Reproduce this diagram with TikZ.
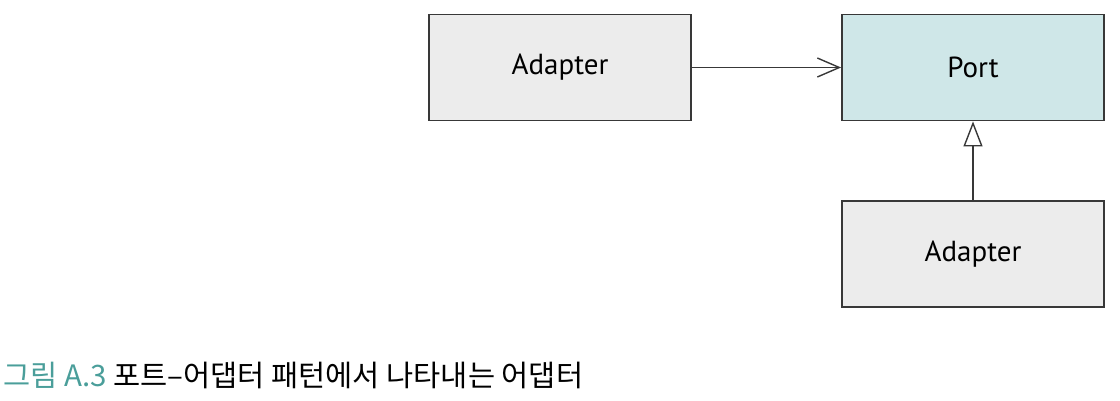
\documentclass[tikz,border=0pt]{standalone}
\usepackage{fontspec}
\setmainfont{PT Sans}
\newfontfamily\krfont{Noto Sans CJK KR}
\usepackage{tikz}
\usetikzlibrary{arrows.meta}
\usetikzlibrary{positioning}
\definecolor{boxgray}{HTML}{ECECEC}
\definecolor{portteal}{HTML}{CFE7E8}
\definecolor{edgegray}{HTML}{383838}
\definecolor{captionteal}{HTML}{4A9E9A}
\tikzset{
  >=latex,
  uses/.style={draw=edgegray, line width=1.4pt, -{Straight Barb[length=22pt,width=19pt,line width=1.4pt]}},
  realizes/.style={draw=edgegray, line width=1.4pt, -{Triangle[open,length=25pt,width=19pt,line width=1.4pt,fill=white]}}
}

\begin{document}
\begin{tikzpicture}[node distance=413pt, auto, thick]
    % Define styles
    \tikzstyle{block} = [rectangle, draw=edgegray, line width=1.8pt, fill=boxgray, minimum width=262pt, minimum height=106pt, inner sep=0pt, font=\fontsize{29}{34}\selectfont]
    \tikzstyle{portblock} = [block, fill=portteal]

    \useasboundingbox (0pt,0pt) rectangle (1120pt,-400pt);

    % Place nodes
    \node [block] (adapter) at (560pt,-67.5pt) {Adapter};
    \node [portblock, right of=adapter] (port) {Port};
    \node [block, below of=port, node distance=186.5pt] (impl) {Adapter};
    \node [anchor=base west, inner sep=0pt, font=\krfont\fontsize{29.5}{34}\selectfont] (caption) at (3pt,-386pt) {{\color{captionteal}그림 A.3} 포트–어댑터 패턴에서 나타내는 어댑터};

    % Draw edges
    \path [uses] (adapter) -- (port);
    \path [realizes] (impl) -- (port);

\end{tikzpicture}
\end{document}
